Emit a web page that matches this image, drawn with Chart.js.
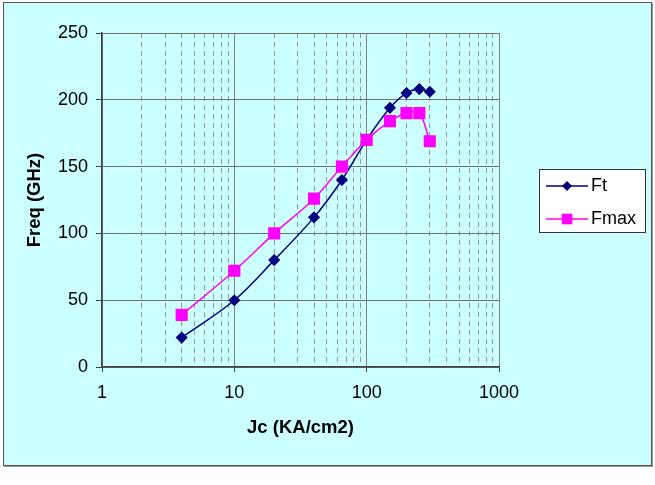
<!DOCTYPE html>
<html>
<head>
<meta charset="utf-8">
<script src="https://cdn.jsdelivr.net/npm/chart.js@4.4.1/dist/chart.umd.min.js"></script>
<style>
  html, body { margin: 0; padding: 0; background: #ffffff; }
  #wrap { position: relative; width: 655px; height: 485px; }
  #frame {
    position: absolute; left: 3px; top: 2px; width: 647px; height: 462px;
    background: #ccffff; border: 1px solid #555555; box-shadow: 1px 1px 0 #999999;
  }
  #c { position: absolute; left: 0; top: 0; }
</style>
</head>
<body>
<div id="wrap">
  <div id="frame"></div>
  <canvas id="c" width="655" height="485"></canvas>
</div>
<script>
// Jc (KA/cm2) values
const jc = [4, 10, 20, 40, 65, 100, 150, 200, 250, 300];
// Freq (GHz)
const ft = [22, 50, 80, 112, 140, 170, 194, 205, 208, 206];
const fmax = [39, 72, 100, 126, 150, 170, 184, 190, 190, 169];

const xLabels = [1, 10, 100, 1000];
const yTicks = [0, 50, 100, 150, 200, 250];

// log grid positions: 1..9, 10..90, 100..1000
const xGrid = [];
for (let d = 1; d < 1000; d *= 10) {
  for (let k = 1; k < 10; k++) xGrid.push(k * d);
}
xGrid.push(1000);

const fontFam = '"Liberation Sans", Arial, sans-serif';

function pts(ys) {
  return jc.map((x, i) => ({ x: x, y: ys[i] }));
}

function isMajor(v) {
  return xLabels.indexOf(v) !== -1;
}

// legend with line + marker in a bordered white box
const boxLegend = {
  id: 'boxLegend',
  afterDraw(chart) {
    const ctx = chart.ctx;
    ctx.save();
    ctx.fillStyle = '#ffffff';
    ctx.fillRect(539, 169, 106, 63);
    ctx.strokeStyle = '#333333';
    ctx.lineWidth = 1;
    ctx.strokeRect(539.5, 169.5, 106, 63);
    chart.data.datasets.forEach((ds, i) => {
      const y = 186 + i * 33;
      ctx.strokeStyle = ds.borderColor;
      ctx.lineWidth = 1.5;
      ctx.beginPath();
      ctx.moveTo(546, y);
      ctx.lineTo(588, y);
      ctx.stroke();
      ctx.fillStyle = ds.pointBackgroundColor;
      ctx.beginPath();
      if (ds.pointStyle === 'rectRot') {
        const r = ds.pointRadius;
        ctx.moveTo(567, y - r);
        ctx.lineTo(567 + r, y);
        ctx.lineTo(567, y + r);
        ctx.lineTo(567 - r, y);
        ctx.closePath();
      } else {
        const s = ds.pointRadius * Math.SQRT1_2;
        ctx.rect(567 - s, y - s, 2 * s, 2 * s);
      }
      ctx.fill();
      ctx.fillStyle = '#000000';
      ctx.font = '18px ' + fontFam;
      ctx.textBaseline = 'middle';
      ctx.textAlign = 'left';
      ctx.fillText(ds.label, 591, y);
    });
    ctx.restore();
  }
};

new Chart(document.getElementById('c'), {
  type: 'line',
  data: {
    datasets: [{
      label: 'Ft',
      data: pts(ft),
      borderColor: '#000080',
      backgroundColor: '#000080',
      pointBackgroundColor: '#000080',
      pointBorderColor: '#000080',
      pointStyle: 'rectRot',
      pointRadius: 5,
      borderWidth: 1.5,
      tension: 0.35,
      order: 1
    }, {
      label: 'Fmax',
      data: pts(fmax),
      borderColor: '#ff00ff',
      backgroundColor: '#ff00ff',
      pointBackgroundColor: '#ff00ff',
      pointBorderColor: '#ff00ff',
      pointStyle: 'rect',
      pointRadius: 7.5,
      borderWidth: 1.5,
      tension: 0.35,
      order: 0
    }]
  },
  options: {
    responsive: false,
    animation: false,
    layout: {
      padding: { left: 0, top: 33, right: 156, bottom: 45.9 }
    },
    plugins: {
      legend: { display: false },
      tooltip: { enabled: false }
    },
    scales: {
      x: {
        type: 'logarithmic',
        min: 1,
        max: 1000,
        afterFit(scale) { scale.height = 72.1; },
        afterBuildTicks(scale) {
          scale.ticks = xGrid.map(v => ({ value: v, major: isMajor(v) }));
        },
        ticks: {
          autoSkip: false,
          maxRotation: 0,
          padding: 10,
          color: '#000000',
          font: { family: fontFam, size: 18 },
          callback: (v) => isMajor(v) ? String(v) : ''
        },
        grid: {
          tickLength: 5,
          color: (c) => (c.tick && isMajor(c.tick.value)) ? '#808080' : '#8c9c9c',
          tickColor: (c) => (c.tick && isMajor(c.tick.value)) ? '#404040' : 'rgba(0,0,0,0)',
          lineWidth: 1
        },
        border: {
          color: '#404040',
          width: 1.5,
          dash: (c) => (c.tick && isMajor(c.tick.value)) ? [] : [5, 4]
        },
        title: {
          display: true,
          text: 'Jc (KA/cm2)',
          color: '#000000',
          padding: 0,
          font: { family: fontFam, size: 18.5, weight: 'bold' }
        }
      },
      y: {
        min: 0,
        max: 250,
        afterFit(scale) { scale.width = 102; },
        afterBuildTicks(scale) {
          scale.ticks = yTicks.map(v => ({ value: v }));
        },
        ticks: {
          padding: 8,
          color: '#000000',
          font: { family: fontFam, size: 18 }
        },
        grid: {
          tickLength: 6,
          color: '#707070',
          tickColor: '#404040',
          lineWidth: 1
        },
        border: {
          color: '#404040',
          width: 1.5
        },
        title: {
          display: true,
          text: 'Freq (GHz)',
          color: '#000000',
          padding: { top: 24, bottom: 0 },
          font: { family: fontFam, size: 18.5, weight: 'bold' }
        }
      }
    }
  },
  plugins: [boxLegend]
});
</script>
</body>
</html>
